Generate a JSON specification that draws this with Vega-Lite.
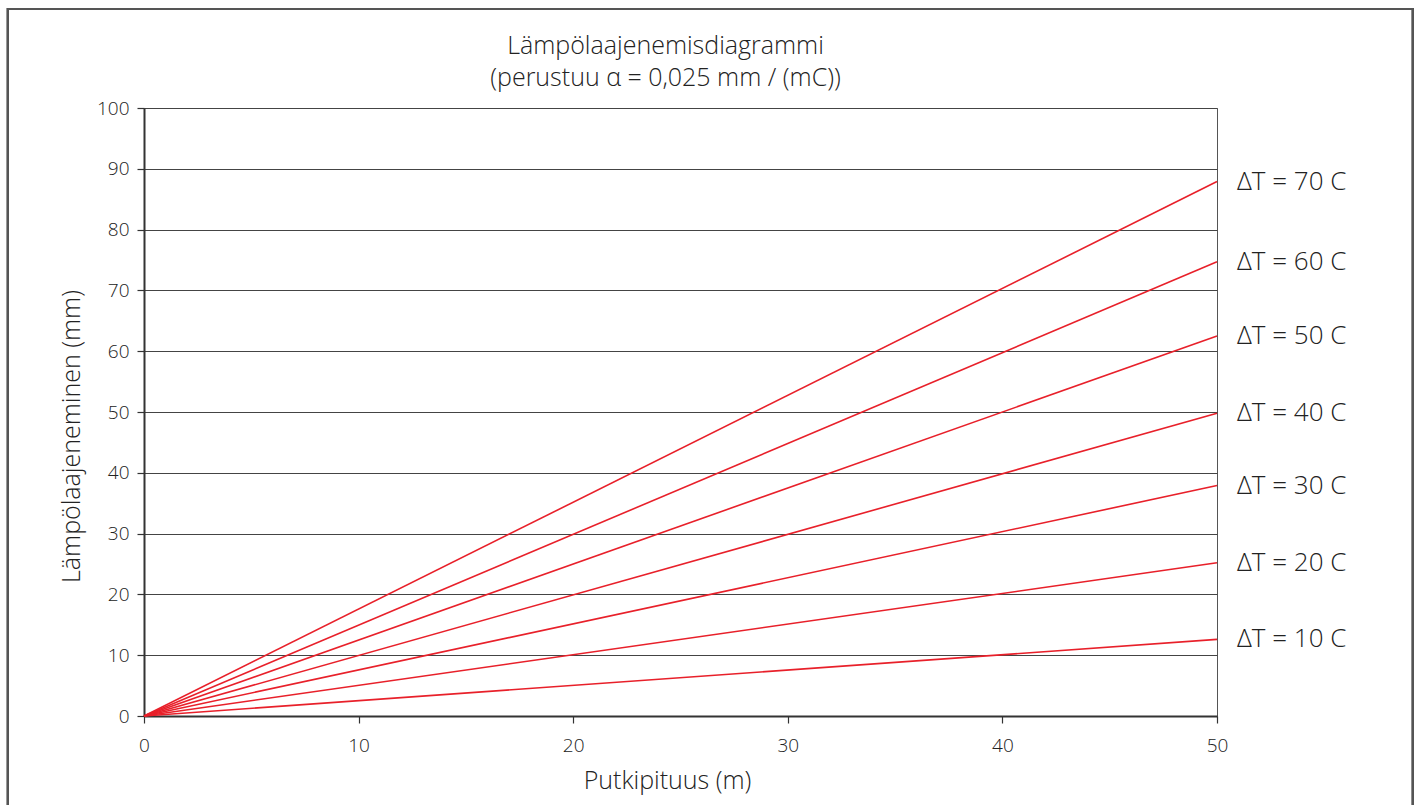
{
  "$schema": "https://vega.github.io/schema/vega-lite/v6.json",
  "width": 1073,
  "height": 608,
  "autosize": {"type": "none"},
  "padding": {"left": 144, "top": 108, "right": 202, "bottom": 89},
  "background": "white",
  "title": {
    "text": ["Lämpölaajenemisdiagrammi", "(perustuu α = 0,025 mm / (mC))"],
    "fontSize": 25,
    "fontWeight": 300,
    "font": "Open Sans",
    "color": "#222",
    "lineHeight": 32,
    "anchor": "middle",
    "frame": "group",
    "dx": -15,
    "offset": -83
  },
  "config": {
    "font": "Open Sans",
    "view": {"stroke": "#555", "strokeWidth": 1},
    "axis": {
      "labelFont": "Open Sans",
      "titleFont": "Open Sans",
      "labelFontWeight": 300,
      "titleFontWeight": 300,
      "labelColor": "#222",
      "titleColor": "#222",
      "labelFontSize": 19,
      "titleFontSize": 25,
      "labelFlush": false
    }
  },
  "data": {
    "values": [
      {"dT": 10, "L": 0, "E": 0, "label": "ΔT = 10 C"},
      {"dT": 10, "L": 50, "E": 12.6, "label": "ΔT = 10 C"},
      {"dT": 20, "L": 0, "E": 0, "label": "ΔT = 20 C"},
      {"dT": 20, "L": 50, "E": 25.2, "label": "ΔT = 20 C"},
      {"dT": 30, "L": 0, "E": 0, "label": "ΔT = 30 C"},
      {"dT": 30, "L": 50, "E": 37.9, "label": "ΔT = 30 C"},
      {"dT": 40, "L": 0, "E": 0, "label": "ΔT = 40 C"},
      {"dT": 40, "L": 50, "E": 49.8, "label": "ΔT = 40 C"},
      {"dT": 50, "L": 0, "E": 0, "label": "ΔT = 50 C"},
      {"dT": 50, "L": 50, "E": 62.5, "label": "ΔT = 50 C"},
      {"dT": 60, "L": 0, "E": 0, "label": "ΔT = 60 C"},
      {"dT": 60, "L": 50, "E": 74.7, "label": "ΔT = 60 C"},
      {"dT": 70, "L": 0, "E": 0, "label": "ΔT = 70 C"},
      {"dT": 70, "L": 50, "E": 87.9, "label": "ΔT = 70 C"}
    ]
  },
  "layer": [
    {
      "mark": {"type": "line", "color": "#e8202a", "strokeWidth": 1.6},
      "encoding": {
        "x": {
          "field": "L", "type": "quantitative",
          "scale": {"domain": [0, 50], "nice": false},
          "axis": {
            "title": "Putkipituus (m)",
            "titleX": 523,
            "values": [0, 10, 20, 30, 40, 50],
            "grid": false,
            "domainColor": "#333",
            "domainWidth": 2,
            "tickColor": "#333",
            "tickSize": 7,
            "tickWidth": 1.2,
            "labelPadding": 13,
            "titlePadding": 13
          }
        },
        "y": {
          "field": "E", "type": "quantitative",
          "scale": {"domain": [0, 100], "nice": false},
          "axis": {
            "title": "Lämpölaajeneminen (mm)",
            "titleY": 328,
            "values": [0, 10, 20, 30, 40, 50, 60, 70, 80, 90, 100],
            "grid": true,
            "gridColor": "#444",
            "gridWidth": 1,
            "domainColor": "#333",
            "domainWidth": 2,
            "tickColor": "#333",
            "tickSize": 7,
            "tickWidth": 1.2,
            "labelPadding": 8,
            "titlePadding": 12
          }
        },
        "detail": {"field": "dT", "type": "nominal"}
      }
    },
    {
      "transform": [{"filter": "datum.L == 50"}],
      "mark": {"type": "text", "align": "left", "baseline": "middle", "dx": 20, "fontSize": 26, "fontWeight": 300, "font": "Open Sans", "color": "#222"},
      "encoding": {
        "x": {"field": "L", "type": "quantitative"},
        "y": {"field": "E", "type": "quantitative"},
        "text": {"field": "label"}
      }
    },
    {
      "mark": {"type": "rect", "fill": null, "stroke": "#555", "strokeWidth": 2, "clip": false},
      "encoding": {
        "x": {"datum": -6.34},
        "x2": {"datum": 59.13},
        "y": {"datum": 116.3},
        "y2": {"datum": -20}
      }
    }
  ]
}
